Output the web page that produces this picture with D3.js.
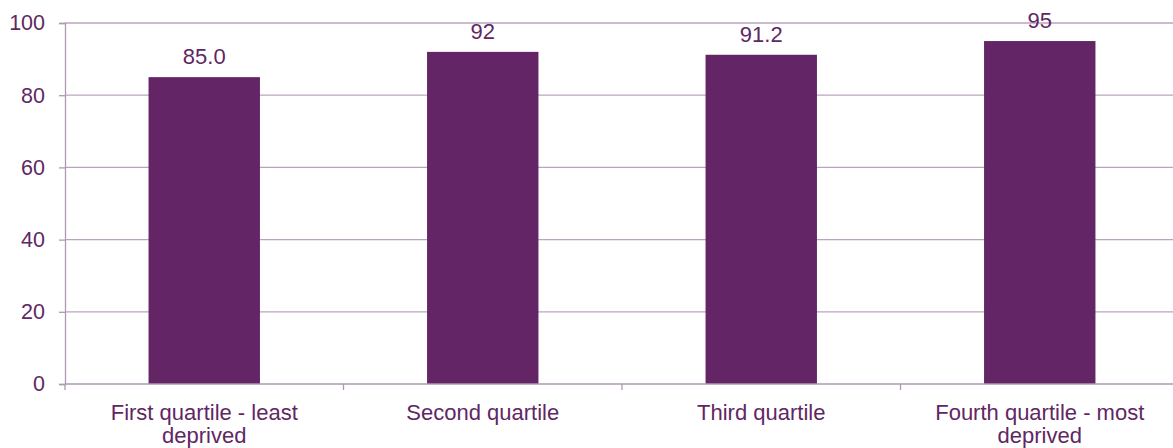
<!DOCTYPE html>
<html>
<head>
<meta charset="utf-8">
<script src="https://cdn.jsdelivr.net/npm/d3@7"></script>
<style>
  html, body { margin: 0; padding: 0; background: #ffffff; }
  svg { display: block; }
  text { font-family: "Liberation Sans", Arial, sans-serif; fill: #5f2763; }
</style>
</head>
<body>
<svg id="chart" width="1173" height="448"></svg>
<script>
// Quartile categories and their values
const categories = [
  "First quartile - least deprived",
  "Second quartile",
  "Third quartile",
  "Fourth quartile - most deprived"
];
const values = [85.0, 92, 91.2, 95];
const valueLabels = ["85.0", "92", "91.2", "95"];
const yTicks = [0, 20, 40, 60, 80, 100];

const W = 1173, H = 448;
const margin = { top: 23, right: -6, bottom: 64, left: 65 };
const barColor = "#632566";
const gridColor = "#b8a5bd";
const axisColor = "#ad99b2";
const fontSize = 22;
const tickFontSize = 21.5;

const svg = d3.select("#chart");

const x = d3.scaleBand()
  .domain(categories)
  .range([margin.left, W - margin.right])
  .paddingInner(0.6)
  .paddingOuter(0.3);

const y = d3.scaleLinear()
  .domain([0, 100])
  .range([H - margin.bottom, margin.top]);

// horizontal gridlines
svg.append("g")
  .selectAll("line")
  .data(yTicks.filter(d => d > 0))
  .join("line")
  .attr("x1", margin.left)
  .attr("x2", W)
  .attr("y1", d => y(d))
  .attr("y2", d => y(d))
  .attr("stroke", gridColor)
  .attr("stroke-width", 1.3);

// y axis
const yAxis = svg.append("g")
  .attr("transform", `translate(${margin.left},0)`)
  .call(d3.axisLeft(y).tickValues(yTicks).tickSize(6).tickPadding(14).tickFormat(d3.format("d")));
yAxis.select(".domain").attr("stroke", axisColor).attr("stroke-width", 1.3);
yAxis.selectAll(".tick line").attr("stroke", axisColor).attr("stroke-width", 1.3);
yAxis.selectAll(".tick text")
  .attr("font-size", tickFontSize)
  .attr("fill", "#5f2763")
  .attr("font-family", "Liberation Sans, Arial, sans-serif");

// bars
svg.append("g")
  .selectAll("rect")
  .data(values)
  .join("rect")
  .attr("x", (d, i) => x(categories[i]))
  .attr("width", x.bandwidth())
  .attr("y", d => y(d))
  .attr("height", d => y(0) - y(d))
  .attr("fill", barColor);

// value labels above bars
svg.append("g")
  .selectAll("text")
  .data(values)
  .join("text")
  .attr("x", (d, i) => x(categories[i]) + x.bandwidth() / 2)
  .attr("y", d => y(d) - 13)
  .attr("text-anchor", "middle")
  .attr("font-size", fontSize)
  .text((d, i) => valueLabels[i]);

// x axis baseline and category boundary ticks
const baseY = y(0);
svg.append("line")
  .attr("x1", margin.left).attr("x2", W)
  .attr("y1", baseY).attr("y2", baseY)
  .attr("stroke", axisColor).attr("stroke-width", 1.3);

const gap = (x.step() - x.bandwidth()) / 2;
const bounds = categories.map(c => x(c) - gap).concat([x(categories[categories.length - 1]) + x.bandwidth() + gap]);
svg.append("g")
  .selectAll("line")
  .data(bounds)
  .join("line")
  .attr("x1", d => d).attr("x2", d => d)
  .attr("y1", baseY).attr("y2", baseY + 6)
  .attr("stroke", axisColor).attr("stroke-width", 1.3);

// category labels, wrapped to fit the band
const measure = svg.append("text").attr("font-size", fontSize).attr("visibility", "hidden");
function wrap(str, maxW) {
  const words = str.split(" ");
  const lines = [];
  let line = "";
  words.forEach(w => {
    const test = line ? line + " " + w : w;
    measure.text(test);
    if (measure.node().getComputedTextLength() > maxW && line) {
      lines.push(line);
      line = w;
    } else {
      line = test;
    }
  });
  if (line) lines.push(line);
  return lines;
}

const catG = svg.append("g");
categories.forEach(c => {
  const lines = wrap(c, 230);
  const t = catG.append("text")
    .attr("text-anchor", "middle")
    .attr("font-size", fontSize)
    .attr("x", x(c) + x.bandwidth() / 2)
    .attr("y", baseY + 36);
  lines.forEach((ln, i) => {
    t.append("tspan")
      .attr("x", x(c) + x.bandwidth() / 2)
      .attr("dy", i === 0 ? 0 : 23)
      .text(ln);
  });
});
measure.remove();
</script>
</body>
</html>
